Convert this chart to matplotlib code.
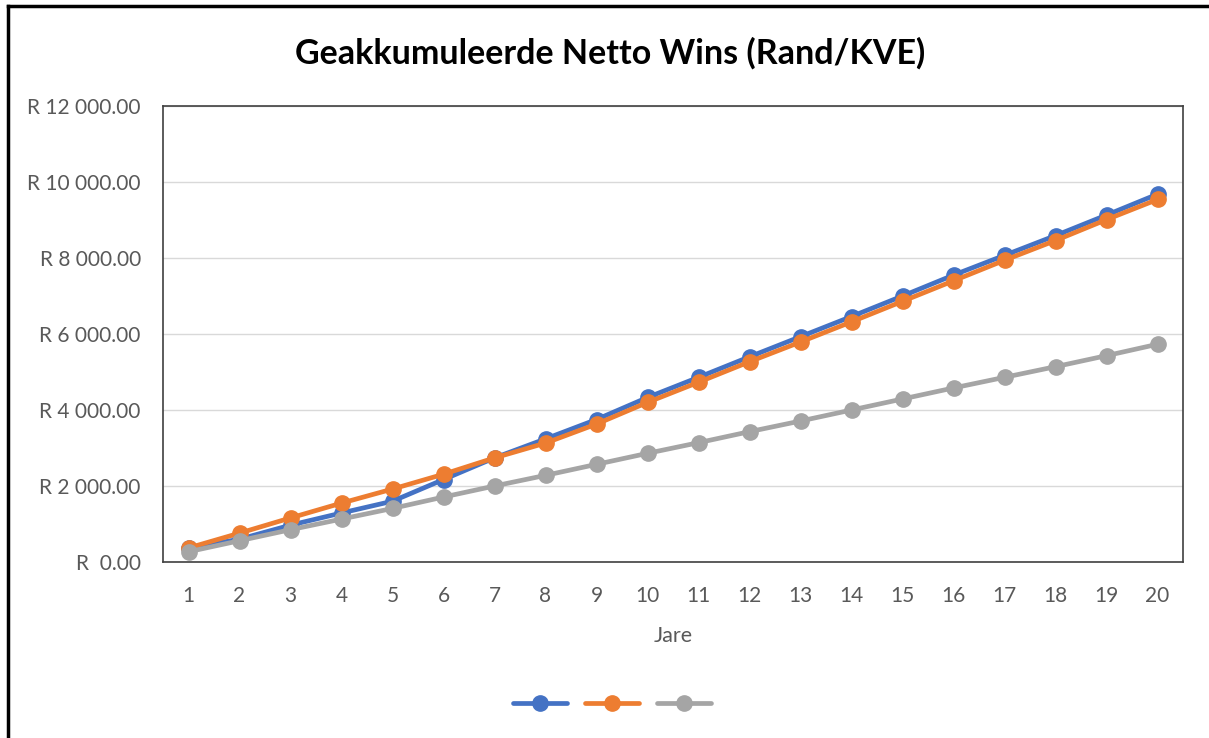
import numpy as np
import matplotlib
matplotlib.use("Agg")
import matplotlib.pyplot as plt
from matplotlib.lines import Line2D
from matplotlib.ticker import FuncFormatter

plt.rcParams['font.family'] = ['Lato', 'DejaVu Sans']

# Jare (years)
jare = list(range(1, 21))

# Cumulative net profit per series (Rand/KVE)
blou = [370, 600, 970, 1290, 1600, 2170, 2740, 3240, 3750, 4330,
        4860, 5400, 5930, 6460, 7000, 7550, 8070, 8590, 9130, 9680]
oranje = [370, 760, 1160, 1550, 1920, 2310, 2740, 3130, 3630, 4200,
          4730, 5270, 5790, 6320, 6860, 7400, 7940, 8460, 9010, 9540]
grys = [270, 560, 850, 1130, 1410, 1710, 2000, 2280, 2570, 2860,
        3140, 3430, 3710, 4000, 4290, 4580, 4860, 5140, 5430, 5730]

y_ticks = list(range(0, 12001, 2000))

colours = ['#4472c4', '#ed7d31', '#a5a5a5']

fig = plt.figure(figsize=(12.09, 7.38), dpi=100)
ax = fig.add_axes([163/1209, 1 - 562/738, 1020/1209, 456/738])

for series, c in zip([blou, oranje, grys], colours):
    ax.plot(jare, series, color=c, lw=3.4, marker='o', ms=11,
            solid_capstyle='round')

ax.set_xlim(0.5, 20.5)
ax.set_ylim(0, 12000)
ax.set_xticks(jare)
ax.set_yticks(y_ticks)


def rand_fmt(v, pos):
    if v == 0:
        return 'R  0.00'
    return 'R ' + f'{v:,.2f}'.replace(',', ' ')


ax.yaxis.set_major_formatter(FuncFormatter(rand_fmt))
ax.tick_params(length=0, labelsize=15, labelcolor='#595959')
ax.tick_params(axis='y', pad=16)
ax.tick_params(axis='x', pad=17)
ax.grid(axis='y', color='#d9d9d9', lw=1)
ax.set_axisbelow(True)
for s in ax.spines.values():
    s.set_color('#404040')
    s.set_linewidth(1.2)

ax.set_xlabel('Jare', fontsize=15.5, color='#595959', labelpad=15)

fig.text(0.505, 1 - 53/738, 'Geakkumuleerde Netto Wins (Rand/KVE)',
         ha='center', va='center', fontsize=24.5, fontweight='bold')

handles = [Line2D([], [], color=c, lw=3.4, marker='o', ms=11,
                  solid_capstyle='round') for c in colours]
fig.legend(handles, ['', '', ''], loc='center', ncol=3,
           bbox_to_anchor=(612/1209, 1 - 704/738), frameon=False,
           handlelength=3.9, handletextpad=0, columnspacing=1.3)

# outer chart frame (left and top edges visible)
fig.add_artist(Line2D([8/1209, 8/1209], [0, 1 - 6/738], color='black',
                      lw=2.5, transform=fig.transFigure))
fig.add_artist(Line2D([8/1209, 1], [1 - 6/738, 1 - 6/738], color='black',
                      lw=2.5, transform=fig.transFigure))

fig.savefig('out.png', dpi=100)
